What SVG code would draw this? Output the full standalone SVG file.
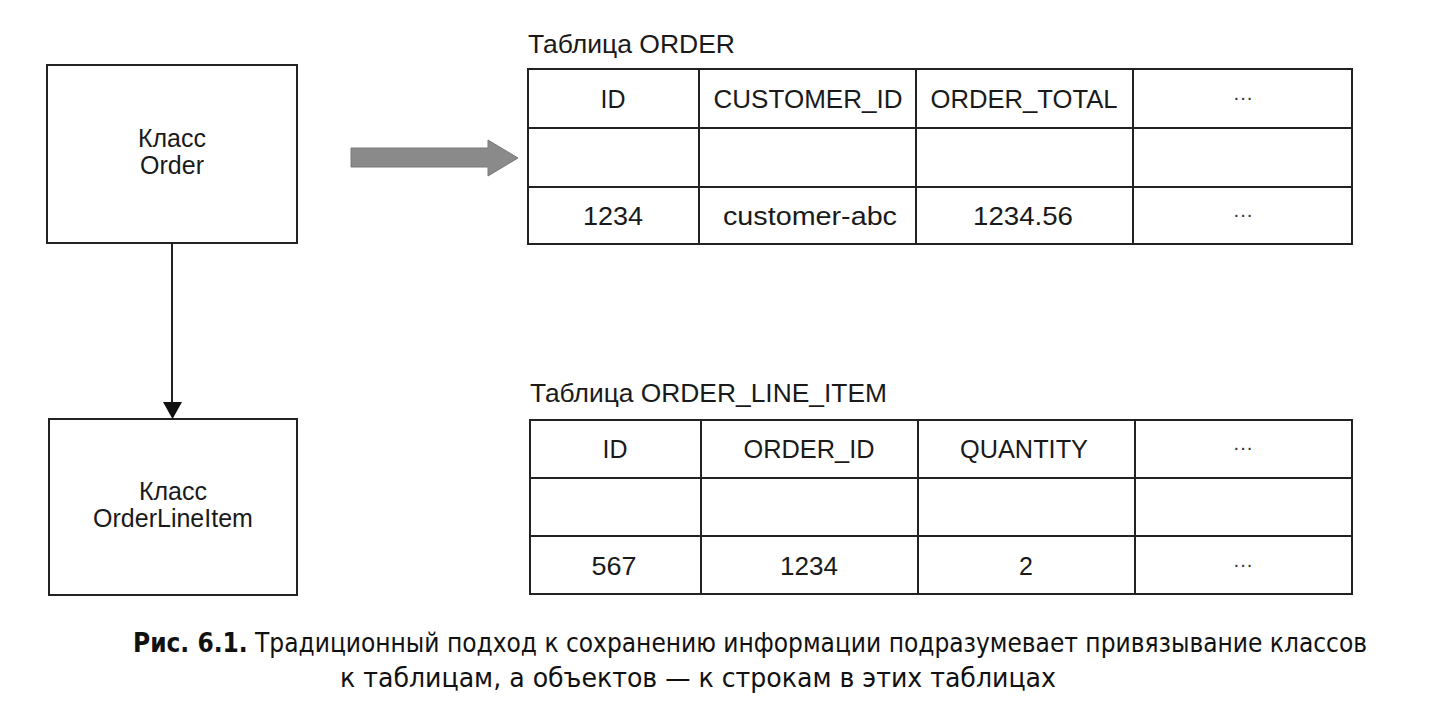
<svg xmlns="http://www.w3.org/2000/svg" width="1434" height="724" viewBox="0 0 1434 724">
  <style>
    .box { fill: #ffffff; stroke: #222222; stroke-width: 2; }
    .grid { stroke: #222222; stroke-width: 2; fill: none; }
    .t { font-family: "Liberation Sans", Arial, sans-serif; font-size: 25px; fill: #1a1a1a; text-anchor: middle; }
    .title { font-family: "Liberation Sans", Arial, sans-serif; font-size: 25px; fill: #1a1a1a; }
    .dots { font-family: "Liberation Sans", Arial, sans-serif; font-size: 20px; fill: #333333; text-anchor: middle; }
    .cap { font-family: "DejaVu Sans Condensed", "DejaVu Sans", sans-serif; font-size: 27px; fill: #111111; }
    .conn { stroke: #222222; stroke-width: 2; fill: none; }
  </style>
  <rect width="1434" height="724" fill="#ffffff"/>

  <g id="class-order">
    <rect class="box" x="47" y="65" width="250" height="178"/>
    <text class="t" x="172" y="147">Класс</text>
    <text class="t" x="172" y="174">Order</text>
  </g>

  <g id="class-orderlineitem">
    <rect class="box" x="49" y="419" width="248" height="176"/>
    <text class="t" x="173" y="500">Класс</text>
    <text class="t" x="173" y="527">OrderLineItem</text>
  </g>

  <g id="table-order">
    <text class="title" x="528" y="53" textLength="207" lengthAdjust="spacingAndGlyphs">Таблица ORDER</text>
    <rect class="grid" x="528" y="69" width="824" height="175"/>
    <line class="grid" x1="528" y1="128" x2="1352" y2="128"/>
    <line class="grid" x1="528" y1="187" x2="1352" y2="187"/>
    <line class="grid" x1="699" y1="69" x2="699" y2="244"/>
    <line class="grid" x1="916" y1="69" x2="916" y2="244"/>
    <line class="grid" x1="1133" y1="69" x2="1133" y2="244"/>
    <text class="t" x="613" y="108">ID</text>
    <text class="t" x="808" y="108" textLength="189" lengthAdjust="spacingAndGlyphs">CUSTOMER_ID</text>
    <text class="t" x="1024" y="108" textLength="187" lengthAdjust="spacingAndGlyphs">ORDER_TOTAL</text>
    <text class="dots" x="1243" y="104">···</text>
    <text class="t" x="613" y="225" textLength="60" lengthAdjust="spacingAndGlyphs">1234</text>
    <text class="t" x="810" y="225" textLength="174" lengthAdjust="spacingAndGlyphs">customer-abc</text>
    <text class="t" x="1023" y="225" textLength="100" lengthAdjust="spacingAndGlyphs">1234.56</text>
    <text class="dots" x="1243" y="221">···</text>
  </g>

  <g id="table-order-line-item">
    <text class="title" x="530" y="402" textLength="357" lengthAdjust="spacingAndGlyphs">Таблица ORDER_LINE_ITEM</text>
    <rect class="grid" x="530" y="420" width="822" height="174"/>
    <line class="grid" x1="530" y1="478" x2="1352" y2="478"/>
    <line class="grid" x1="530" y1="536" x2="1352" y2="536"/>
    <line class="grid" x1="701" y1="420" x2="701" y2="594"/>
    <line class="grid" x1="918" y1="420" x2="918" y2="594"/>
    <line class="grid" x1="1135" y1="420" x2="1135" y2="594"/>
    <text class="t" x="615" y="458">ID</text>
    <text class="t" x="809" y="458" textLength="131" lengthAdjust="spacingAndGlyphs">ORDER_ID</text>
    <text class="t" x="1024" y="458" textLength="128" lengthAdjust="spacingAndGlyphs">QUANTITY</text>
    <text class="dots" x="1243" y="454">···</text>
    <text class="t" x="614" y="575" textLength="45" lengthAdjust="spacingAndGlyphs">567</text>
    <text class="t" x="809" y="575" textLength="58" lengthAdjust="spacingAndGlyphs">1234</text>
    <text class="t" x="1026" y="575">2</text>
    <text class="dots" x="1243" y="571">···</text>
  </g>

  <g id="connectors">
    <line class="conn" x1="172" y1="243" x2="172" y2="403"/>
    <polygon points="163,402 182,402 172.5,419" fill="#111111"/>
    <polygon points="351,148 488,148 488,140 518,158 488,176 488,167 351,167" fill="#8a8a8a" stroke="#7a7a7a" stroke-width="1"/>
  </g>

  <g id="caption">
    <text class="cap" x="133" y="652" textLength="1234" lengthAdjust="spacingAndGlyphs"><tspan font-weight="bold">Рис. 6.1.</tspan> Традиционный подход к сохранению информации подразумевает привязывание классов</text>
    <text class="cap" x="340" y="687" textLength="716" lengthAdjust="spacingAndGlyphs">к таблицам, а объектов — к строкам в этих таблицах</text>
  </g>
</svg>
